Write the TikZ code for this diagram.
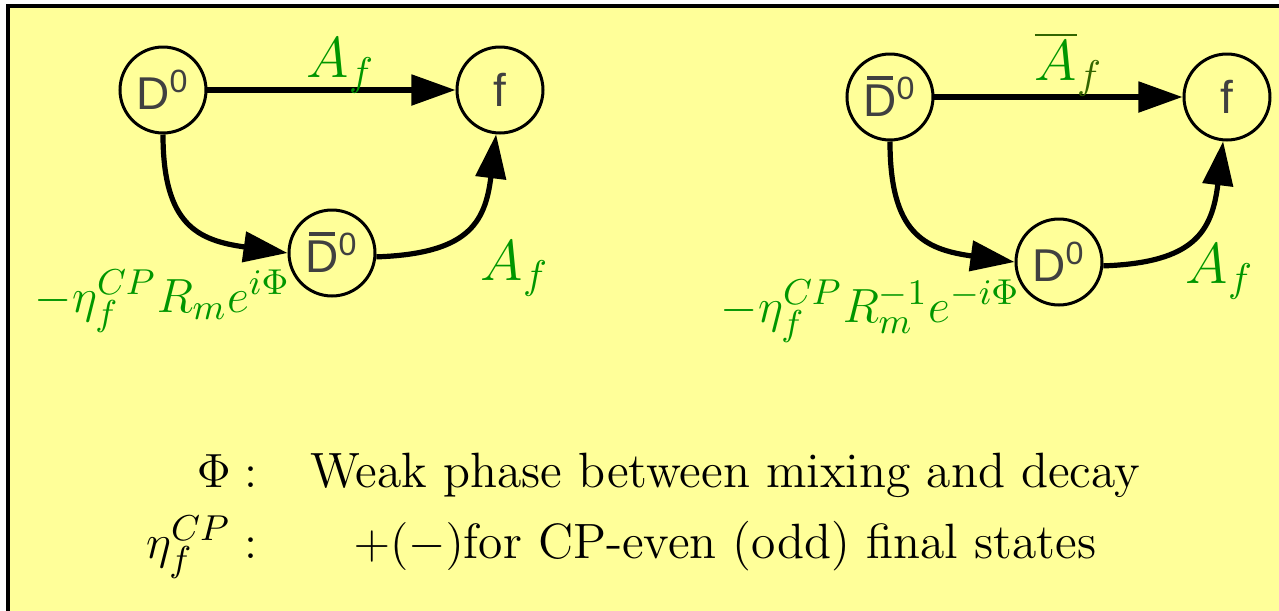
\documentclass[tikz,border=0pt]{standalone}
\usepackage{fontspec}
\newfontfamily\statefont{Liberation Sans}
\usetikzlibrary{arrows.meta}
\definecolor{ampgreen}{RGB}{0,150,0}
\definecolor{bargreen}{RGB}{51,102,0}
\definecolor{panel}{RGB}{255,255,153}
\definecolor{statetext}{RGB}{64,64,64}
\newcommand{\barD}{\ooalign{D\cr\hidewidth\rule[0.8em]{0.55em}{0.09em}\hidewidth\cr}}
\newcommand{\Dz}{D\textsuperscript{0}}
\newcommand{\Dbz}{\barD\textsuperscript{0}}
\begin{document}
\begin{tikzpicture}[
  x=0.25pt,y=-0.25pt,
  state/.style={circle,draw=black,line width=0.75pt,minimum size=21.5pt,inner sep=0pt,
    font=\statefont\fontsize{11.5}{13}\selectfont,text=statetext},
  arr/.style={draw=black,line width=1.3pt,-{Triangle[length=11pt,width=7.5pt]}},
  amp/.style={font=\Large,text=ampgreen,inner sep=0pt},
  phase/.style={font=\fontsize{12.9}{15}\selectfont,text=ampgreen,inner sep=0pt},
  note/.style={font=\fontsize{12.4}{15}\selectfont,text=black,inner sep=0pt},
]
\useasboundingbox (0,0) rectangle (1279,611);
\clip (0,0) rectangle (1279,611);
\draw[fill=panel,line width=1pt] (8,6) rectangle (1300,640);
% left: D0 decays
\node[state] (D0L) at (163,90) {\Dz};
\node[state] (fL) at (500,90) {f};
\node[state] (DbL) at (332,253) {\Dbz};
\draw[arr] (D0L) -- (fL);
\draw[arr] (D0L.south) to[out=-90,in=172,looseness=1.35] (DbL.west);
\draw[arr] (DbL.-5) to[out=2,in=-97,looseness=1.35] (fL.-95);
\node[amp,anchor=base west] (AfL) at (306,77) {$A_f$};
\node[amp,anchor=base west] (AfmixL) at (480,280) {$A_f$};
\node[phase,anchor=base west] (mixL) at (34,312) {$-\eta_f^{CP}R_m e^{i\Phi}$};
% right: D0bar decays
\node[state] (DbR) at (890,97) {\Dbz};
\node[state] (fR) at (1227,97) {f};
\node[state] (D0R) at (1059,262) {\Dz};
\draw[arr] (DbR) -- (fR);
\draw[arr] (DbR.south) to[out=-90,in=172,looseness=1.35] (D0R.west);
\draw[arr] (D0R.-5) to[out=2,in=-97,looseness=1.35] (fR.-95);
\node[amp,anchor=base west] (AbR) at (1034,80) {$\color{bargreen}\overline{\color{ampgreen}A}_f$};
\node[amp,anchor=base west] (AfmixR) at (1185,283) {$A_f$};
\node[phase,anchor=base west] (mixR) at (720,322) {$-\eta_f^{CP}R_m^{-1}e^{-i\Phi}$};
% legend
\node[note,anchor=base east] (phiK) at (258,487) {$\Phi:$};
\node[note,anchor=base] (phiV) at (725,487) {Weak phase between mixing and decay};
\node[note,anchor=base east] (etaK) at (258,558) {$\eta_f^{CP}:$};
\node[note,anchor=base] (etaV) at (725,558) {$+(-)$for CP-even (odd) final states};
\end{tikzpicture}
\end{document}
